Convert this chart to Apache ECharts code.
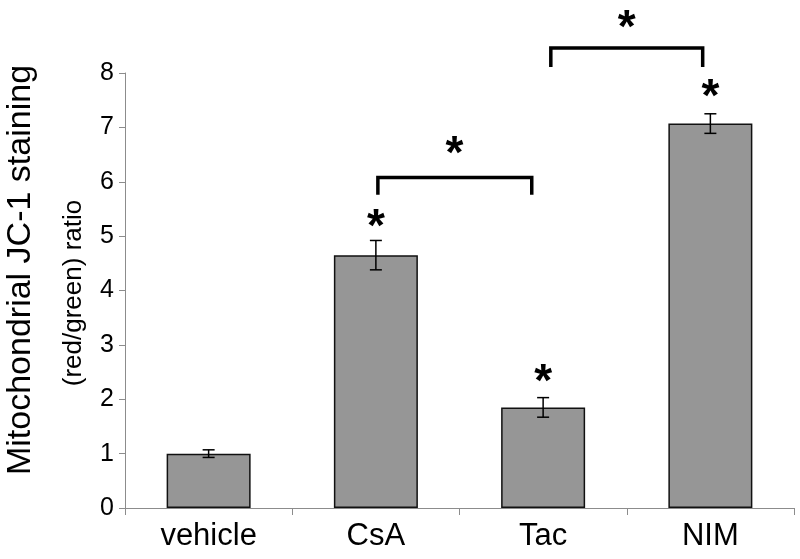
<!DOCTYPE html>
<html><head><meta charset="utf-8">
<script src="https://cdn.jsdelivr.net/npm/echarts@6/dist/echarts.min.js"></script>
<style>html,body{margin:0;padding:0;background:#fff}#c{width:800px;height:559px}</style>
</head><body><div id="c"></div>
<script>
const categories = ['vehicle', 'CsA', 'Tac', 'NIM'];
const values = [1.0, 4.65, 1.85, 7.07];
const errors = [0.07, 0.27, 0.18, 0.18];
const yTicks = [0, 1, 2, 3, 4, 5, 6, 7, 8];
// stars: [x (category position), y value]
const stars = [[1, 5.35], [2, 2.5], [3, 7.74], [1.47, 6.68], [2.5, 9.01]];
// brackets: [xStart, xEnd, yTop, yLegBottom]
const brackets = [[1.012, 1.932, 6.08, 5.76], [2.046, 2.954, 8.46, 8.11]];

const chart = echarts.init(document.getElementById('c'));
const font = '"Liberation Sans", Arial, sans-serif';
chart.setOption({
  animation: false,
  backgroundColor: '#fff',
  grid: { left: 125, right: 6, top: 73, bottom: 51 },
  xAxis: [{
    type: 'category', data: categories,
    axisLine: { lineStyle: { color: '#8c8c8c', width: 1 } },
    axisTick: { show: true, length: 7, lineStyle: { color: '#8c8c8c' } },
    axisLabel: { color: '#000', fontSize: 31, fontFamily: font, margin: 13 }
  }, {
    type: 'value', min: -0.5, max: 3.5, show: false
  }],
  yAxis: {
    type: 'value', min: 0, max: 8, interval: 1,
    axisLine: { show: true, onZero: false, lineStyle: { color: '#8c8c8c', width: 1 } },
    axisTick: { show: true, length: 6, lineStyle: { color: '#8c8c8c' } },
    splitLine: { show: false },
    axisLabel: { color: '#000', fontSize: 25, fontFamily: font, margin: 11,
      formatter: v => yTicks.includes(v) ? String(v) : '' }
  },
  graphic: [
    { type: 'text', x: 21, y: 270, rotation: Math.PI / 2,
      style: { text: 'Mitochondrial JC-1 staining', fontSize: 34, fontFamily: font, fill: '#000', align: 'center', verticalAlign: 'middle' } },
    { type: 'text', x: 74, y: 293, rotation: Math.PI / 2,
      style: { text: '(red/green) ratio', fontSize: 26, fontFamily: font, fill: '#000', align: 'center', verticalAlign: 'middle' } }
  ],
  series: [{
    type: 'bar', data: values, barWidth: 84,
    itemStyle: { color: '#969696', borderColor: '#111', borderWidth: 1.5 }
  }, {
    type: 'custom', z: 5,
    data: values.map((v, i) => [i, v - errors[i], v + errors[i]]),
    renderItem: (params, api) => {
      const lo = api.coord([api.value(0), api.value(1)]);
      const hi = api.coord([api.value(0), api.value(2)]);
      const w = 6;
      const st = { stroke: '#000', lineWidth: 1.5 };
      return { type: 'group', children: [
        { type: 'line', shape: { x1: lo[0], y1: lo[1], x2: hi[0], y2: hi[1] }, style: st },
        { type: 'line', shape: { x1: lo[0] - w, y1: lo[1], x2: lo[0] + w, y2: lo[1] }, style: st },
        { type: 'line', shape: { x1: hi[0] - w, y1: hi[1], x2: hi[0] + w, y2: hi[1] }, style: st }
      ]};
    }
  }, {
    type: 'custom', xAxisIndex: 1, clip: false, z: 6,
    data: brackets,
    renderItem: (params, api) => {
      const a = api.coord([api.value(0), api.value(3)]);
      const b = api.coord([api.value(0), api.value(2)]);
      const c = api.coord([api.value(1), api.value(2)]);
      const d = api.coord([api.value(1), api.value(3)]);
      return { type: 'polyline', shape: { points: [a, b, c, d] },
        style: { stroke: '#000', lineWidth: 3.5, fill: null } };
    }
  }, {
    type: 'custom', xAxisIndex: 1, clip: false, z: 7,
    data: stars,
    renderItem: (params, api) => {
      const p = api.coord([api.value(0), api.value(1)]);
      return { type: 'text', x: p[0], y: p[1] + 11,
        style: { text: '*', fontSize: 46, fontWeight: 'bold', fontFamily: font, fill: '#000', align: 'center', verticalAlign: 'middle' } };
    }
  }]
});
</script></body></html>
